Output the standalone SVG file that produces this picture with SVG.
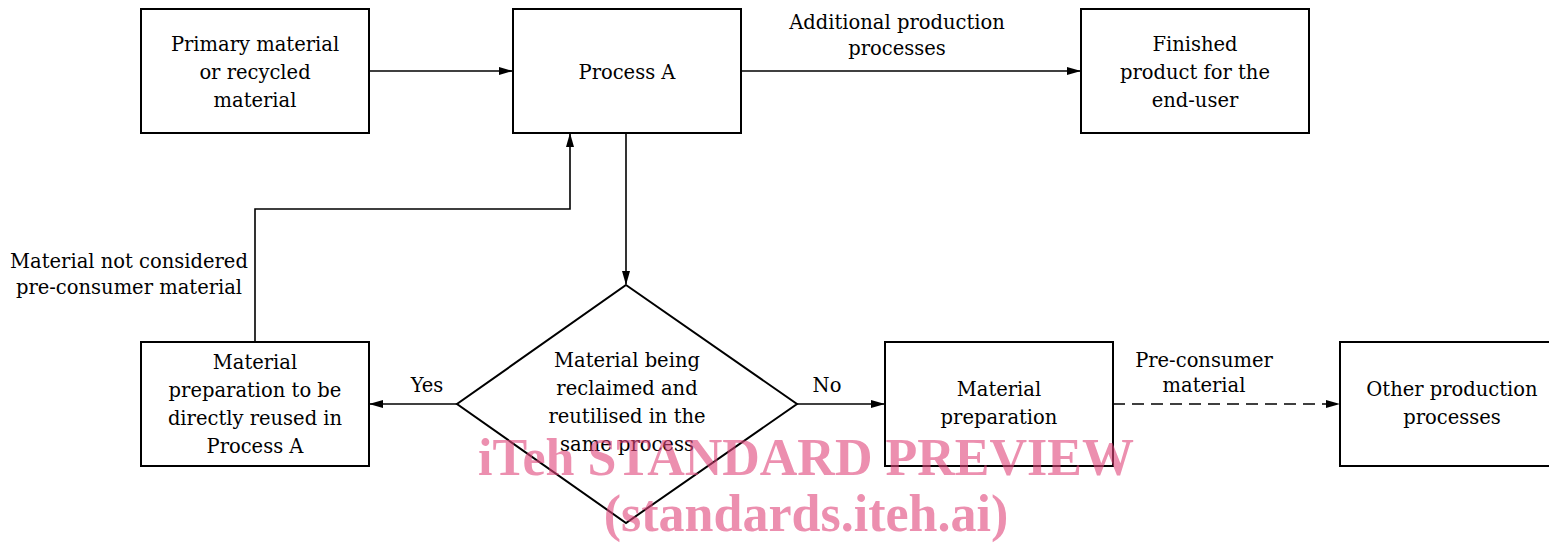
<svg xmlns="http://www.w3.org/2000/svg" width="1549" height="544" viewBox="0 0 1549 544">
<defs>
<style>
.box{fill:#fff;stroke:#000;stroke-width:2}
.t{font-family:"DejaVu Serif","Liberation Serif",serif;font-size:19.5px;fill:#000;text-anchor:middle}
.c{fill:none;stroke:#000;stroke-width:1.6}
.d{stroke-dasharray:12 7}
.wm{font-family:"Liberation Serif",serif;font-weight:bold;font-size:52px;fill:#e0457a;fill-opacity:0.6;text-anchor:middle}
</style>
<marker id="ah" markerWidth="14" markerHeight="8" refX="13" refY="4" orient="auto" markerUnits="userSpaceOnUse">
<path d="M0,0 L14,4 L0,8 Z" fill="#000"/>
</marker>
</defs>
<rect width="1549" height="544" fill="#fff"/>
<g id="connectors">
<line class="c" x1="369" y1="71" x2="512" y2="71" marker-end="url(#ah)"/>
<line class="c" x1="741" y1="71" x2="1080" y2="71" marker-end="url(#ah)"/>
<line class="c" x1="626" y1="133" x2="626" y2="284" marker-end="url(#ah)"/>
<line class="c" x1="457" y1="404" x2="370" y2="404" marker-end="url(#ah)"/>
<line class="c" x1="797" y1="404" x2="884" y2="404" marker-end="url(#ah)"/>
<line class="c d" x1="1113" y1="404" x2="1339" y2="404" marker-end="url(#ah)"/>
<polyline class="c" points="255,342 255,209 570,209 570,134" marker-end="url(#ah)"/>
<text class="t" x="897" y="29">Additional production</text>
<text class="t" x="897" y="55">processes</text>
<text class="t" x="129" y="268">Material not considered</text>
<text class="t" x="129" y="294">pre-consumer material</text>
<text class="t" x="427" y="392">Yes</text>
<text class="t" x="827" y="392">No</text>
<text class="t" x="1204" y="367">Pre-consumer</text>
<text class="t" x="1204" y="392">material</text>
</g>
<g id="primary">
<rect class="box" x="141" y="9" width="228" height="124"/>
<text class="t" x="255" y="51">Primary material</text>
<text class="t" x="255" y="79">or recycled</text>
<text class="t" x="255" y="107">material</text>
</g>
<g id="processA">
<rect class="box" x="513" y="9" width="228" height="124"/>
<text class="t" x="627" y="79">Process A</text>
</g>
<g id="finished">
<rect class="box" x="1081" y="9" width="228" height="124"/>
<text class="t" x="1195" y="51">Finished</text>
<text class="t" x="1195" y="79">product for the</text>
<text class="t" x="1195" y="107">end-user</text>
</g>
<g id="reuse">
<rect class="box" x="141" y="342" width="228" height="124"/>
<text class="t" x="255" y="369">Material</text>
<text class="t" x="255" y="397">preparation to be</text>
<text class="t" x="255" y="425">directly reused in</text>
<text class="t" x="255" y="453">Process A</text>
</g>
<g id="decision">
<polygon class="box" points="626,285 797,404 626,523 457,404"/>
<text class="t" x="627" y="367">Material being</text>
<text class="t" x="627" y="395">reclaimed and</text>
<text class="t" x="627" y="423">reutilised in the</text>
<text class="t" x="627" y="451">same process</text>
</g>
<g id="prep">
<rect class="box" x="885" y="342" width="228" height="124"/>
<text class="t" x="999" y="396">Material</text>
<text class="t" x="999" y="424">preparation</text>
</g>
<g id="other">
<rect class="box" x="1340" y="342" width="228" height="124"/>
<text class="t" x="1452" y="396">Other production</text>
<text class="t" x="1452" y="424">processes</text>
</g>
<g id="watermark">
<text class="wm" x="806" y="475">iTeh STANDARD PREVIEW</text>
<text class="wm" x="806" y="531">(standards.iteh.ai)</text>
</g>
</svg>
